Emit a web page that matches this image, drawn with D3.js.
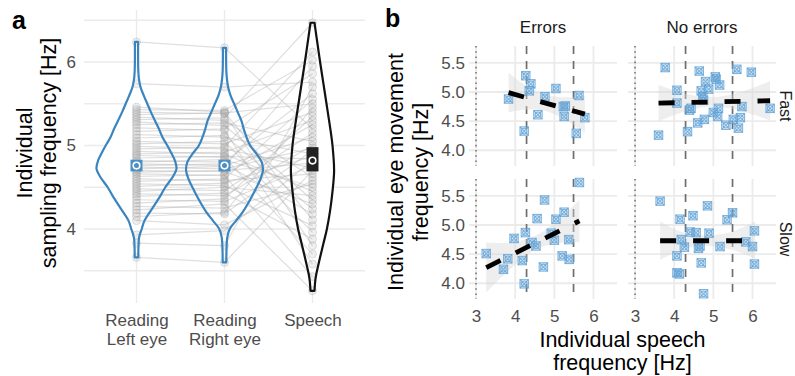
<!DOCTYPE html>
<html>
<head>
<meta charset="utf-8">
<script src="https://cdn.jsdelivr.net/npm/d3@7"></script>
<style>
body { margin: 0; background: #fff; }
text { font-family: "Liberation Sans", Arial, Helvetica, sans-serif; }
</style>
</head>
<body>
<div id="chart"></div>
<script>
// ---------- data: panel a ----------
var groups = ["Reading\nLeft eye", "Reading\nRight eye", "Speech"];

var leftEye = [6.24, 5.74, 5.46, 5.43, 5.40, 5.37, 5.34, 5.31, 5.28, 5.25,
    5.21, 5.17, 5.13, 5.09, 5.05, 5.02, 4.99, 4.96, 4.93, 4.90,
    4.88, 4.85, 4.82, 4.80, 4.78, 4.76, 4.74, 4.72, 4.70, 4.68,
    4.66, 4.63, 4.60, 4.57, 4.54, 4.51, 4.48, 4.45, 4.42, 4.39,
    4.35, 4.31, 4.27, 4.23, 4.19, 4.15, 4.10, 3.93, 3.83, 3.66];
var rightEye = [6.17, 5.70, 5.40, 5.42, 5.38, 5.39, 5.30, 5.33, 5.24, 5.27,
    5.18, 5.20, 5.10, 5.12, 5.02, 5.05, 4.96, 4.98, 4.90, 4.92,
    4.86, 4.87, 4.80, 4.83, 4.76, 4.78, 4.72, 4.75, 4.69, 4.70,
    4.64, 4.65, 4.58, 4.60, 4.52, 4.55, 4.46, 4.50, 4.40, 4.43,
    4.33, 4.36, 4.25, 4.30, 4.18, 4.20, 4.05, 3.98, 3.80, 3.60];
var speech = [5.20, 5.76, 4.11, 6.02, 3.80, 5.50, 4.62, 6.47, 4.35, 5.05,
    3.58, 5.86, 4.90, 4.24, 5.40, 3.96, 4.73, 6.12, 4.45, 5.30,
    3.70, 4.84, 5.62, 4.50, 5.10, 4.18, 4.97, 5.95, 4.30, 4.79,
    3.43, 5.25, 4.66, 5.55, 4.04, 4.87, 5.15, 4.40, 5.00, 3.88,
    4.76, 5.35, 4.54, 3.26, 4.94, 5.45, 4.58, 4.82, 5.70, 4.70];

// violin outlines: [Hz, relative half width]
var violinLeft = [[3.66,0.045],[3.8,0.05],[3.9,0.065],[4.0,0.13],[4.1,0.2],[4.25,0.4],[4.4,0.6],[4.5,0.72],
    [4.62,0.9],[4.72,1.0],[4.82,0.96],[4.92,0.86],[5.0,0.77],[5.1,0.65],[5.2,0.56],[5.3,0.46],[5.4,0.36],
    [5.5,0.27],[5.6,0.18],[5.7,0.1],[5.8,0.06],[5.9,0.045],[6.0,0.04],[6.24,0.04]];
var violinRight = [[3.6,0.045],[3.75,0.05],[3.9,0.07],[4.0,0.13],[4.1,0.29],[4.2,0.45],[4.3,0.58],[4.45,0.75],
    [4.6,0.9],[4.7,0.96],[4.8,0.93],[4.9,0.8],[5.0,0.64],[5.1,0.55],[5.2,0.48],[5.3,0.42],[5.4,0.33],
    [5.5,0.24],[5.6,0.15],[5.7,0.09],[5.8,0.06],[5.9,0.045],[6.17,0.04]];
var violinSpeech = [[3.26,0.05],[3.42,0.08],[3.6,0.16],[3.82,0.27],[4.0,0.36],[4.22,0.44],[4.45,0.5],[4.7,0.54],
    [5.0,0.5],[5.25,0.43],[5.5,0.35],[5.75,0.27],[6.0,0.19],[6.3,0.1],[6.47,0.05]];

// mean and interval boxes
var summaryMid = [4.76, 4.76, 4.82];
var summaryLo = [4.69, 4.69, 4.69];
var summaryHi = [4.83, 4.83, 4.98];

// ---------- data: panel b ----------
var fastErrSpeech = [3.83, 4.23, 4.27, 4.40, 4.36, 4.58, 4.76, 5.04, 5.23, 5.28, 5.25, 5.63, 5.56, 5.78];
var fastErrEye    = [4.88, 4.33, 5.28, 5.14, 5.02, 4.61, 4.92, 5.06, 4.75, 4.76, 4.58, 4.94, 4.29, 4.56];

var fastNoSpeech = [3.77, 4.07, 4.07, 3.60, 4.34, 4.39, 4.43, 4.60, 4.64, 4.77, 4.69, 4.73, 4.80, 4.75, 4.88,
    5.00, 5.05, 5.07, 5.16, 5.13, 5.11, 5.32, 5.51, 5.60, 5.69, 5.64, 5.73, 5.97, 6.45];
var fastNoEye    = [5.42, 5.03, 4.81, 4.26, 4.32, 4.69, 4.72, 4.47, 5.36, 4.53, 5.02, 4.92, 5.18, 4.86, 5.05,
    4.65, 5.26, 5.22, 5.12, 4.72, 4.58, 4.43, 4.53, 5.39, 4.56, 4.38, 4.75, 5.34, 4.72];

var slowErrSpeech = [3.26, 3.70, 3.81, 3.97, 4.18, 4.23, 4.26, 4.43, 4.53, 4.56, 4.72, 4.75, 4.92, 5.00,
    5.04, 5.20, 5.25, 5.37, 5.38, 5.64];
var slowErrEye    = [4.51, 4.24, 4.42, 4.77, 4.39, 3.99, 4.87, 4.70, 4.64, 5.11, 4.28, 5.43, 4.86, 4.74,
    5.10, 4.47, 5.22, 4.75, 4.41, 5.73];

var slowNoSpeech = [3.64, 4.07, 4.07, 4.13, 4.15, 4.18, 4.26, 4.41, 4.48, 4.56, 4.62, 4.66, 4.69, 4.75,
    4.85, 4.89, 5.17, 5.35, 5.49, 5.83, 6.00, 6.05, 6.05];
var slowNoEye    = [5.41, 4.47, 4.18, 4.16, 5.10, 4.75, 4.62, 4.88, 5.16, 4.87, 4.60, 4.64, 4.35, 3.82,
    5.33, 4.86, 4.63, 5.09, 5.21, 4.71, 4.63, 4.90, 4.33];

// fitted lines: [speech start, eye start, speech end, eye end]
var fastErrFit = [3.83, 4.99, 5.78, 4.62];
var fastNoFit = [3.60, 4.81, 6.45, 4.85];
var slowErrFit = [3.26, 4.27, 5.64, 5.07];
var slowNoFit = [3.64, 4.73, 6.07, 4.73];

// confidence bands
var fastErrBandX = [3.83, 4.3, 4.8, 5.3, 5.78];
var fastErrBandLo = [4.65, 4.70, 4.67, 4.51, 4.30];
var fastErrBandHi = [5.33, 5.10, 4.95, 4.91, 4.94];
var fastNoBandX = [3.60, 4.3, 4.95, 5.7, 6.45];
var fastNoBandLo = [4.50, 4.67, 4.75, 4.68, 4.51];
var fastNoBandHi = [5.12, 4.97, 4.91, 5.00, 5.19];
var slowErrBandX = [3.26, 3.9, 4.5, 5.1, 5.64];
var slowErrBandLo = [3.84, 4.26, 4.57, 4.69, 4.71];
var slowErrBandHi = [4.70, 4.70, 4.81, 5.09, 5.43];
var slowNoBandX = [3.64, 4.2, 4.8, 5.45, 6.07];
var slowNoBandLo = [4.40, 4.58, 4.64, 4.58, 4.42];
var slowNoBandHi = [5.06, 4.88, 4.82, 4.88, 5.06];

var speechCuts = [4.29, 5.49];
var speechMin = 3.0;

var colNames = ["Errors", "No errors"];
var rowNames = ["Fast", "Slow"];

// ---------- svg ----------
var svg = d3.select("#chart").append("svg")
    .attr("width", 795)
    .attr("height", 376);

var blue = "#3a85c0";
var tickColor = "#4d4d4d";
var gridColor = "#ebebeb";
var tickSize = "17px";
var titleSize = "21.5px";

// ================= panel a =================
var xA = d3.scalePoint().domain(groups).range([136.5, 312.5]);
var yA = d3.scaleLinear().domain([4, 6]).range([229, 62]);
var wA = d3.scaleLinear().domain([0, 1]).range([0, 40]);

var gA = svg.append("g");

// grid
gA.selectAll(".hgrid")
    .data([3.5, 4, 4.5, 5, 5.5, 6, 6.5])
    .enter().append("line")
    .attr("x1", 84).attr("x2", 365)
    .attr("y1", d => yA(d)).attr("y2", d => yA(d))
    .attr("stroke", gridColor).attr("stroke-width", 1.4);
gA.selectAll(".vgrid")
    .data(groups)
    .enter().append("line")
    .attr("x1", d => xA(d)).attr("x2", d => xA(d))
    .attr("y1", 10).attr("y2", 303)
    .attr("stroke", gridColor).attr("stroke-width", 1.4);

var violins = [violinLeft, violinRight, violinSpeech];
function violinPath(prof, cx) {
    return d3.area()
        .y(d => yA(d[0]))
        .x0(d => cx - wA(d[1]))
        .x1(d => cx + wA(d[1]))
        .curve(d3.curveCatmullRom)(prof);
}

// violin fills first
violins.forEach(function(prof, i) {
    gA.append("path")
        .attr("d", violinPath(prof, xA(groups[i])))
        .attr("fill", "#fff");
});

// participant lines
var lineA = d3.line().x(d => d[0]).y(d => d[1]);
leftEye.forEach(function(v, i) {
    var pts = [[xA(groups[0]), yA(v)], [xA(groups[1]), yA(rightEye[i])], [xA(groups[2]), yA(speech[i])]];
    gA.append("path")
        .attr("d", lineA(pts))
        .attr("fill", "none")
        .attr("stroke", "#aaaaaa")
        .attr("stroke-opacity", 0.38)
        .attr("stroke-width", 1.2);
});

// participant points
[leftEye, rightEye, speech].forEach(function(arr, g) {
    gA.selectAll(".pt" + g)
        .data(arr)
        .enter().append("circle")
        .attr("cx", xA(groups[g]))
        .attr("cy", d => yA(d))
        .attr("r", 4)
        .attr("fill", "#999")
        .attr("fill-opacity", 0.16)
        .attr("stroke", "#999")
        .attr("stroke-opacity", 0.28);
});

// violin outlines
violins.forEach(function(prof, i) {
    gA.append("path")
        .attr("d", violinPath(prof, xA(groups[i])))
        .attr("fill", "none")
        .attr("stroke", i < 2 ? blue : "#111")
        .attr("stroke-width", 2.2)
        .attr("stroke-linejoin", "round");
});

// summary boxes
groups.forEach(function(g, i) {
    gA.append("rect")
        .attr("x", xA(g) - 6)
        .attr("y", yA(summaryHi[i]))
        .attr("width", 12)
        .attr("height", yA(summaryLo[i]) - yA(summaryHi[i]))
        .attr("fill", i < 2 ? "#4b8fc4" : "#222");
    gA.append("circle")
        .attr("cx", xA(g))
        .attr("cy", yA(summaryMid[i]))
        .attr("r", 3.3)
        .attr("fill", "none")
        .attr("stroke", "#fff")
        .attr("stroke-width", 1.6);
});

// axes
var yAxisA = gA.append("g")
    .attr("transform", "translate(84,0)")
    .call(d3.axisLeft(yA).tickValues([4, 5, 6]).tickFormat(d3.format("d")).tickSize(0).tickPadding(8));
var xAxisA = gA.append("g")
    .attr("transform", "translate(0,314)")
    .call(d3.axisBottom(xA).tickSize(0).tickPadding(0));
[yAxisA, xAxisA].forEach(function(ax) {
    ax.select(".domain").remove();
    ax.selectAll("text")
        .attr("fill", tickColor)
        .style("font-size", tickSize);
});
xAxisA.selectAll("text").each(function(d) {
    var t = d3.select(this);
    var lines = d.split("\n");
    t.text(null);
    lines.forEach(function(l, k) {
        t.append("tspan").attr("x", 0).attr("dy", k === 0 ? "0.71em" : "1.1em").text(l);
    });
});

// axis title a
var titleA = svg.append("text")
    .attr("transform", "translate(0,153) rotate(-90)")
    .attr("text-anchor", "middle")
    .style("font-size", titleSize)
    .attr("fill", "#000");
titleA.append("tspan").attr("x", 0).attr("y", 32).text("Individual");
titleA.append("tspan").attr("x", 0).attr("y", 56).text("sampling frequency [Hz]");

// panel labels
svg.append("text").attr("x", 12).attr("y", 29).text("a")
    .style("font-size", "25px").style("font-weight", "bold");
svg.append("text").attr("x", 385).attr("y", 27).text("b")
    .style("font-size", "25px").style("font-weight", "bold");

// ================= panel b =================
var colLeft = [469, 628];
var rowTop = [46, 179];
var panelW = 148, panelH = 120;

var facets = [
    {r: 0, c: 0, sx: fastErrSpeech, sy: fastErrEye, fit: fastErrFit, bx: fastErrBandX, blo: fastErrBandLo, bhi: fastErrBandHi},
    {r: 0, c: 1, sx: fastNoSpeech, sy: fastNoEye, fit: fastNoFit, bx: fastNoBandX, blo: fastNoBandLo, bhi: fastNoBandHi},
    {r: 1, c: 0, sx: slowErrSpeech, sy: slowErrEye, fit: slowErrFit, bx: slowErrBandX, blo: slowErrBandLo, bhi: slowErrBandHi},
    {r: 1, c: 1, sx: slowNoSpeech, sy: slowNoEye, fit: slowNoFit, bx: slowNoBandX, blo: slowNoBandLo, bhi: slowNoBandHi}
];

function xB(c) {
    return d3.scaleLinear().domain([2.82, 6.6]).range([colLeft[c], colLeft[c] + panelW]);
}
function yB(r) {
    return d3.scaleLinear().domain([3.73, 5.79]).range([rowTop[r] + panelH, rowTop[r]]);
}

var ptColor = "#5b9fd4";

facets.forEach(function(f) {
    var x = xB(f.c), y = yB(f.r);
    var g = svg.append("g");
    var top = rowTop[f.r], bot = rowTop[f.r] + panelH;

    // grid
    g.selectAll(".hg")
        .data([4, 4.5, 5, 5.5])
        .enter().append("line")
        .attr("x1", colLeft[f.c]).attr("x2", colLeft[f.c] + panelW)
        .attr("y1", d => y(d)).attr("y2", d => y(d))
        .attr("stroke", gridColor).attr("stroke-width", 1.8);
    g.selectAll(".vg")
        .data([3, 4, 5, 6])
        .enter().append("line")
        .attr("x1", d => x(d)).attr("x2", d => x(d))
        .attr("y1", top).attr("y2", bot)
        .attr("stroke", gridColor).attr("stroke-width", 1.8);

    // reference lines
    g.append("line")
        .attr("x1", x(speechMin)).attr("x2", x(speechMin))
        .attr("y1", top).attr("y2", bot)
        .attr("stroke", "#777").attr("stroke-width", 1.6)
        .attr("stroke-dasharray", "1.6,3.6");
    g.selectAll(".cut")
        .data(speechCuts)
        .enter().append("line")
        .attr("x1", d => x(d)).attr("x2", d => x(d))
        .attr("y1", top).attr("y2", bot)
        .attr("stroke", "#6e6e6e").attr("stroke-width", 1.7)
        .attr("stroke-dasharray", "8,7");

    // confidence band
    var band = f.bx.map((v, i) => [v, f.blo[i], f.bhi[i]]);
    g.append("path")
        .attr("d", d3.area()
            .x(d => x(d[0]))
            .y0(d => y(d[1]))
            .y1(d => y(d[2]))
            .curve(d3.curveCatmullRom)(band))
        .attr("fill", "#d6d6d6")
        .attr("fill-opacity", 0.42);

    // points
    var pts = g.selectAll(".p")
        .data(f.sx.map((v, i) => [v, f.sy[i]]))
        .enter().append("g")
        .attr("transform", d => "translate(" + x(d[0]) + "," + y(d[1]) + ")")
        .attr("stroke", ptColor)
        .attr("stroke-opacity", 0.75)
        .attr("stroke-width", 1.1);
    pts.append("rect")
        .attr("x", -4.2).attr("y", -4.2).attr("width", 8.4).attr("height", 8.4)
        .attr("fill", "#a9cbe7").attr("fill-opacity", 0.3);
    pts.append("circle").attr("r", 2.8).attr("fill", "none");
    pts.append("path").attr("d", "M-4.2,-4.2L4.2,4.2M-4.2,4.2L4.2,-4.2").attr("fill", "none");

    // fitted line
    g.append("line")
        .attr("x1", x(f.fit[0])).attr("y1", y(f.fit[1]))
        .attr("x2", x(f.fit[2])).attr("y2", y(f.fit[3]))
        .attr("stroke", "#000").attr("stroke-width", 4.8)
        .attr("stroke-dasharray", "16,17");

    // axes
    if (f.c === 0) {
        var ay = g.append("g")
            .attr("transform", "translate(" + colLeft[0] + ",0)")
            .call(d3.axisLeft(y).tickValues([4, 4.5, 5, 5.5]).tickFormat(d3.format(".1f")).tickSize(0).tickPadding(4));
        ay.select(".domain").remove();
        ay.selectAll("text").attr("fill", tickColor).style("font-size", tickSize);
    }
    if (f.r === 1) {
        var ax = g.append("g")
            .attr("transform", "translate(0," + bot + ")")
            .call(d3.axisBottom(x).tickValues([3, 4, 5, 6]).tickFormat(d3.format("d")).tickSize(0).tickPadding(11));
        ax.select(".domain").remove();
        ax.selectAll("text").attr("fill", tickColor).style("font-size", tickSize);
    }
});

// strips
colNames.forEach(function(n, c) {
    svg.append("text")
        .attr("x", colLeft[c] + panelW / 2)
        .attr("y", 27)
        .attr("dy", "0.35em")
        .attr("text-anchor", "middle")
        .style("font-size", tickSize)
        .attr("fill", "#1a1a1a")
        .text(n);
});
rowNames.forEach(function(n, r) {
    svg.append("text")
        .attr("transform", "translate(780," + (rowTop[r] + panelH / 2) + ") rotate(90)")
        .attr("text-anchor", "middle")
        .style("font-size", "16px")
        .attr("fill", "#1a1a1a")
        .text(n);
});

// axis titles b
var titleBx = svg.append("text")
    .attr("text-anchor", "middle")
    .style("font-size", titleSize);
titleBx.append("tspan").attr("x", 622.5).attr("y", 347).text("Individual speech");
titleBx.append("tspan").attr("x", 622.5).attr("y", 370).text("frequency [Hz]");

var titleBy = svg.append("text")
    .attr("transform", "translate(0,172) rotate(-90)")
    .attr("text-anchor", "middle")
    .style("font-size", titleSize);
titleBy.append("tspan").attr("x", 0).attr("y", 403).text("Individual eye movement");
titleBy.append("tspan").attr("x", 0).attr("y", 428).text("frequency [Hz]");
</script>
</body>
</html>
